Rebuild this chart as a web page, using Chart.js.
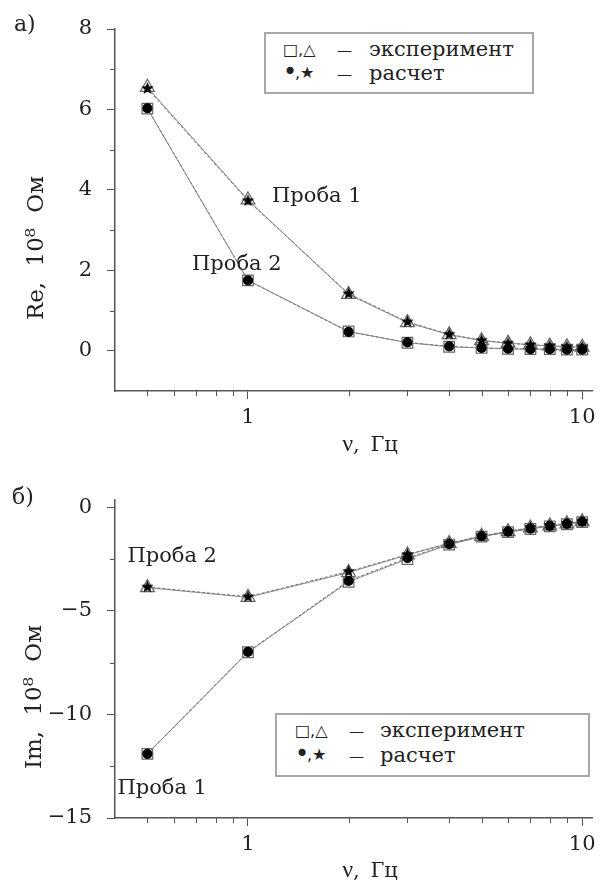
<!DOCTYPE html>
<html>
<head>
<meta charset="utf-8">
<script src="https://cdn.jsdelivr.net/npm/chart.js@4"></script>
<style>
    body {
        margin: 0;
        background: #fff;
        font-family: 'DejaVu Serif', serif;
        color: #222;
    }
    #wrap {
        position: relative;
        width: 603px;
        height: 881px;
        overflow: hidden;
    }
    canvas {
        position: absolute;
        left: 0;
    }
    .lbl {
        position: absolute;
        font-size: 22px;
        line-height: 22px;
        white-space: nowrap;
    }
    .xtitle {
        position: absolute;
        font-size: 21px;
        line-height: 22px;
        white-space: nowrap;
        transform: translate(-50%, -50%);
        word-spacing: 4px;
    }
    .nu {
        font-family: 'Liberation Serif', serif;
        font-size: 24px;
    }
    .ytitle {
        position: absolute;
        font-size: 23px;
        line-height: 22px;
        white-space: nowrap;
        word-spacing: 8px;
        transform: translate(-50%, -50%) rotate(-90deg);
    }
    .legend {
        position: absolute;
        border: 2px solid #a8a8a8;
        box-sizing: border-box;
        background: #fff;
    }
    .legend span {
        position: absolute;
        font-size: 21px;
        line-height: 22px;
        white-space: nowrap;
    }
    .legend .sym {
        font-family: 'DejaVu Sans', sans-serif;
        font-size: 16px;
    }
    .legend .dot {
        font-family: 'DejaVu Sans', sans-serif;
        font-size: 24px;
    }
    .legend .dash {
        font-size: 15px;
    }
</style>
</head>
<body>
<div id="wrap">
    <canvas id="reChart" width="603" height="460" style="top:0"></canvas>
    <canvas id="imChart" width="603" height="421" style="top:460px"></canvas>

    <!-- подписи панелей и осей -->
    <div class="lbl" style="left:14px;top:13px">а)</div>
    <div class="lbl" style="left:12px;top:486px">б)</div>
    <div class="ytitle" style="left:35px;top:248px">Re, 10⁸ Ом</div>
    <div class="ytitle" style="left:33px;top:697px">Im, 10⁸ Ом</div>
    <div class="xtitle" style="left:370px;top:443px"><span class="nu">ν</span>, Гц</div>
    <div class="xtitle" style="left:370px;top:869px"><span class="nu">ν</span>, Гц</div>

    <!-- легенды -->
    <div class="legend" style="left:264px;top:32px;width:270px;height:62px">
        <span class="sym" style="left:17px;top:5px">□,△</span>
        <span class="dash" style="left:71px;top:5px">—</span>
        <span style="left:103px;top:4px">эксперимент</span>
        <span class="dot" style="left:17px;top:27px">•</span>
        <span class="sym" style="left:29px;top:28px">,★</span>
        <span class="dash" style="left:71px;top:29px">—</span>
        <span style="left:103px;top:28px">расчет</span>
    </div>
    <div class="legend" style="left:275px;top:713px;width:315px;height:64px">
        <span class="sym" style="left:18px;top:5px">□,△</span>
        <span class="dash" style="left:72px;top:5px">—</span>
        <span style="left:103px;top:4px">эксперимент</span>
        <span class="dot" style="left:18px;top:28px">•</span>
        <span class="sym" style="left:30px;top:29px">,★</span>
        <span class="dash" style="left:72px;top:30px">—</span>
        <span style="left:103px;top:29px">расчет</span>
    </div>
</div>

<script>
    // частоты, Гц
    const freq = [0.5, 1, 2, 3, 4, 5, 6, 7, 8, 9, 10];

    // а) Re, 10^8 Ом
    const re1Exp  = [6.55, 3.75, 1.40, 0.70, 0.40, 0.25, 0.19, 0.15, 0.12, 0.10, 0.09];
    const re1Calc = [6.52, 3.73, 1.42, 0.72, 0.41, 0.26, 0.19, 0.15, 0.12, 0.10, 0.09];
    const re2Exp  = [6.02, 1.75, 0.48, 0.20, 0.10, 0.07, 0.05, 0.04, 0.04, 0.03, 0.03];
    const re2Calc = [6.03, 1.75, 0.47, 0.21, 0.11, 0.07, 0.05, 0.04, 0.04, 0.03, 0.03];

    // б) Im, 10^8 Ом
    const im1Exp  = [-11.9, -7.0, -3.6, -2.5, -1.80, -1.42, -1.20, -1.05, -0.92, -0.82, -0.72];
    const im1Calc = [-11.9, -6.98, -3.55, -2.45, -1.78, -1.40, -1.18, -1.03, -0.90, -0.80, -0.70];
    const im2Exp  = [-3.88, -4.35, -3.15, -2.30, -1.75, -1.40, -1.18, -1.00, -0.90, -0.80, -0.70];
    const im2Calc = [-3.85, -4.32, -3.10, -2.28, -1.73, -1.38, -1.16, -0.98, -0.88, -0.78, -0.68];

    // деления осей
    const xMajor = [1, 10];
    const xMinor = [0.5, 0.6, 0.7, 0.8, 0.9, 2, 3, 4, 5, 6, 7, 8, 9];
    const reMajor = [0, 2, 4, 6, 8];
    const reMinor = [1, 3, 5, 7];
    const imMajor = [-15, -10, -5, 0];
    const imMinor = [-12.5, -7.5, -2.5];

    const INK = '#222';
    const AXIS = '#555';
    const font = { family: "'DejaVu Serif', serif", size: 21 };

    // закрашенная звёздочка для расчётных точек
    function starImage(r) {
        const c = document.createElement('canvas');
        const s = Math.ceil(r * 2) + 2;
        c.width = c.height = s;
        const g = c.getContext('2d');
        g.fillStyle = '#000';
        g.beginPath();
        for (let i = 0; i < 10; i++) {
            const a = -Math.PI / 2 + i * Math.PI / 5;
            const rr = i % 2 ? r * 0.45 : r;
            g.lineTo(s / 2 + rr * Math.cos(a), s / 2 + rr * Math.sin(a));
        }
        g.closePath();
        g.fill();
        return c;
    }
    const star = starImage(6.5);

    // короткие (мелкие) деления
    const minorTicks = {
        id: 'minorTicks',
        afterDraw(chart, args, opts) {
            const { ctx, chartArea, scales: { x, y } } = chart;
            ctx.save();
            ctx.strokeStyle = AXIS;
            ctx.lineWidth = 1;
            opts.x.forEach(v => {
                const px = Math.round(x.getPixelForValue(v)) + 0.5;
                ctx.beginPath();
                ctx.moveTo(px, chartArea.bottom);
                ctx.lineTo(px, chartArea.bottom + 5);
                ctx.stroke();
            });
            opts.y.forEach(v => {
                const py = Math.round(y.getPixelForValue(v)) + 0.5;
                ctx.beginPath();
                ctx.moveTo(chartArea.left - 5, py);
                ctx.lineTo(chartArea.left, py);
                ctx.stroke();
            });
            ctx.restore();
        }
    };

    // подписи "Проба" у кривых
    const probeLabels = {
        id: 'probeLabels',
        afterDatasetsDraw(chart, args, opts) {
            const { ctx, scales: { x, y } } = chart;
            ctx.save();
            ctx.font = "21px 'DejaVu Serif', serif";
            ctx.fillStyle = INK;
            ctx.textAlign = 'left';
            ctx.textBaseline = 'middle';
            opts.items.forEach(it => {
                ctx.fillText(it.text, x.getPixelForValue(it.x) + it.dx, y.getPixelForValue(it.y) + it.dy);
            });
            ctx.restore();
        }
    };

    function series(data, kind) {
        const base = {
            data: data,
            borderWidth: 1,
            pointBorderWidth: 1.2,
            clip: false
        };
        if (kind === 'tri') return Object.assign(base, {
            borderColor: '#8a8a8a', pointStyle: 'triangle', pointRadius: 8,
            pointBorderColor: '#666', pointBackgroundColor: 'rgba(255,255,255,0)', order: 2
        });
        if (kind === 'sq') return Object.assign(base, {
            borderColor: '#8a8a8a', pointStyle: 'rect', pointRadius: 7.5,
            pointBorderColor: '#666', pointBackgroundColor: 'rgba(255,255,255,0)', order: 2
        });
        if (kind === 'star') return Object.assign(base, {
            borderColor: '#777', borderDash: [3, 2], pointStyle: star, pointRadius: 6,
            order: 1
        });
        return Object.assign(base, {
            borderColor: '#777', borderDash: [3, 2], pointStyle: 'circle', pointRadius: 4.5,
            pointBorderColor: '#000', pointBackgroundColor: '#000', order: 1
        });
    }

    function buildChart(id, cfg) {
        const near = (a, b) => Math.abs(a - b) < 1e-6;
        const xTicks = xMajor.concat(xMinor).sort((a, b) => a - b);
        const yTicks = cfg.yMajor.concat(cfg.yMinor).sort((a, b) => a - b);
        return new Chart(document.getElementById(id), {
            type: 'line',
            data: { labels: freq, datasets: cfg.datasets },
            plugins: [minorTicks, probeLabels],
            options: {
                responsive: false,
                animation: false,
                events: [],
                layout: { padding: { left: 0, right: 11, top: cfg.top, bottom: 0 } },
                plugins: {
                    legend: { display: false },
                    tooltip: { enabled: false },
                    minorTicks: { x: xMinor, y: cfg.yMinor },
                    probeLabels: { items: cfg.labels }
                },
                scales: {
                    x: {
                        type: 'logarithmic',
                        min: 0.4,
                        max: 10.7,
                        afterBuildTicks: s => { s.ticks = xTicks.map(v => ({ value: v })); },
                        afterFit: s => { s.height = cfg.xHeight; },
                        border: { color: AXIS, width: 1.5 },
                        grid: {
                            drawOnChartArea: false,
                            tickLength: 8,
                            tickColor: c => (c.tick && xMajor.some(m => near(m, c.tick.value))) ? AXIS : 'rgba(0,0,0,0)'
                        },
                        ticks: {
                            autoSkip: false,
                            maxRotation: 0,
                            padding: 6,
                            color: INK,
                            font: font,
                            callback: v => xMajor.some(m => near(m, v)) ? String(v) : ''
                        }
                    },
                    y: {
                        min: cfg.yMin,
                        max: cfg.yMax,
                        afterBuildTicks: s => { s.ticks = yTicks.map(v => ({ value: v })); },
                        afterFit: s => { s.width = 115; },
                        border: { color: AXIS, width: 1.5 },
                        grid: {
                            drawOnChartArea: false,
                            tickLength: 8,
                            tickColor: c => (c.tick && cfg.yMajor.some(m => near(m, c.tick.value))) ? AXIS : 'rgba(0,0,0,0)'
                        },
                        ticks: {
                            autoSkip: false,
                            padding: 15,
                            color: INK,
                            font: font,
                            callback: v => cfg.yMajor.some(m => near(m, v)) ? String(v).replace('-', '−') : ''
                        }
                    }
                }
            }
        });
    }

    buildChart('reChart', {
        top: 29, xHeight: 69,
        yMin: -1, yMax: 8, yMajor: reMajor, yMinor: reMinor,
        datasets: [
            series(re1Exp, 'tri'), series(re1Calc, 'star'),
            series(re2Exp, 'sq'), series(re2Calc, 'circ')
        ],
        labels: [
            { text: 'Проба 1', x: 1, y: 3.75, dx: 24, dy: -3 },
            { text: 'Проба 2', x: 1, y: 1.75, dx: -56, dy: -16 }
        ]
    });

    buildChart('imChart', {
        top: 40, xHeight: 63,
        yMin: -15, yMax: 0.35, yMajor: imMajor, yMinor: imMinor,
        datasets: [
            series(im2Exp, 'tri'), series(im2Calc, 'star'),
            series(im1Exp, 'sq'), series(im1Calc, 'circ')
        ],
        labels: [
            { text: 'Проба 2', x: 0.5, y: -3.88, dx: -20, dy: -31 },
            { text: 'Проба 1', x: 0.5, y: -11.9, dx: -30, dy: 35 }
        ]
    });
</script>
</body>
</html>
